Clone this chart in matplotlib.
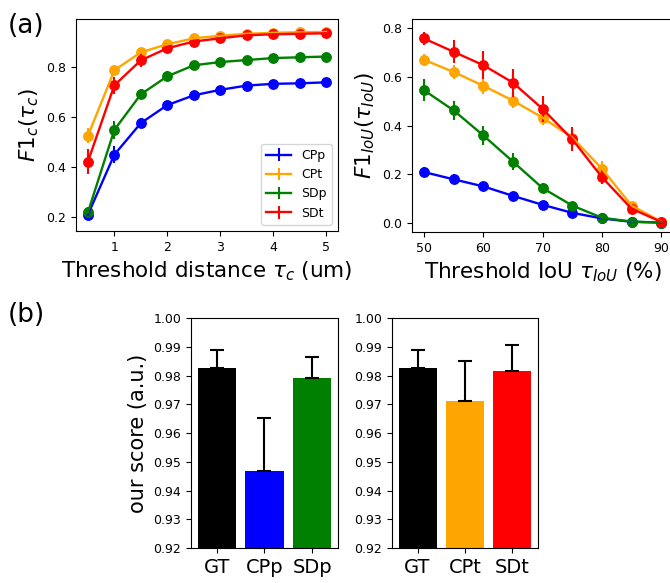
import numpy as np
import matplotlib
matplotlib.use('Agg')
import matplotlib.pyplot as plt

# (a) left: F1 vs threshold distance
dist = [0.5, 1, 1.5, 2, 2.5, 3, 3.5, 4, 4.5, 5]
cpp_d = [0.208, 0.448, 0.574, 0.646, 0.685, 0.707, 0.724, 0.731, 0.733, 0.737]
cpt_d = [0.523, 0.785, 0.857, 0.889, 0.913, 0.923, 0.931, 0.935, 0.937, 0.938]
sdp_d = [0.217, 0.547, 0.689, 0.761, 0.805, 0.818, 0.826, 0.834, 0.837, 0.840]
sdt_d = [0.420, 0.725, 0.825, 0.873, 0.900, 0.913, 0.925, 0.929, 0.931, 0.933]
cpp_d_err = [0.02, 0.035, 0.02, 0.015, 0.015, 0.01, 0.01, 0.01, 0.01, 0.01]
cpt_d_err = [0.03, 0.02, 0.015, 0.012, 0.01, 0.01, 0.01, 0.01, 0.01, 0.01]
sdp_d_err = [0.02, 0.035, 0.02, 0.02, 0.01, 0.01, 0.01, 0.01, 0.01, 0.01]
sdt_d_err = [0.05, 0.035, 0.025, 0.02, 0.015, 0.01, 0.01, 0.01, 0.01, 0.01]

# (a) right: F1 vs threshold IoU
iou = [50, 55, 60, 65, 70, 75, 80, 85, 90]
cpp_i = [0.209, 0.179, 0.150, 0.111, 0.074, 0.041, 0.018, 0.004, 0.001]
cpt_i = [0.671, 0.621, 0.564, 0.503, 0.433, 0.351, 0.223, 0.071, 0.005]
sdp_i = [0.546, 0.463, 0.360, 0.252, 0.143, 0.071, 0.021, 0.005, 0.001]
sdt_i = [0.759, 0.704, 0.649, 0.577, 0.469, 0.344, 0.188, 0.058, 0.004]
cpp_i_err = [0.02, 0.02, 0.015, 0.012, 0.01, 0.008, 0.005, 0.003, 0.001]
cpt_i_err = [0.025, 0.03, 0.035, 0.03, 0.03, 0.03, 0.03, 0.01, 0.003]
sdp_i_err = [0.045, 0.04, 0.04, 0.035, 0.02, 0.01, 0.005, 0.003, 0.001]
sdt_i_err = [0.027, 0.048, 0.058, 0.058, 0.054, 0.05, 0.03, 0.01, 0.003]

# (b) bar scores
names_p = ['GT', 'CPp', 'SDp']
score_p = [0.9827, 0.9469, 0.9791]
err_p = [0.0063, 0.0183, 0.0073]
names_t = ['GT', 'CPt', 'SDt']
score_t = [0.9827, 0.9712, 0.9817]
err_t = [0.0063, 0.0137, 0.0088]

labels = ['CPp', 'CPt', 'SDp', 'SDt']
colors = ['blue', 'orange', 'green', 'red']

fig = plt.figure(figsize=(6.7, 5.83), dpi=100)

ax1 = fig.add_axes([0.1134, 0.6038, 0.391, 0.3636])
ax2 = fig.add_axes([0.615, 0.602, 0.3896, 0.365])
ax3 = fig.add_axes([0.285, 0.060, 0.2194, 0.3945])
ax4 = fig.add_axes([0.585, 0.060, 0.218, 0.3945])

for y, e, c, l in zip([cpp_d, cpt_d, sdp_d, sdt_d], [cpp_d_err, cpt_d_err, sdp_d_err, sdt_d_err], colors, labels):
    ax1.errorbar(dist, y, yerr=e, color=c, lw=1.7, elinewidth=1.5, label=l)
    ax1.plot(dist, y, 'o', color=c, ms=6.8)
ax1.set_xlim(0.275, 5.225)
ax1.set_ylim(0.143, 0.99)
ax1.set_yticks([0.2, 0.4, 0.6, 0.8])
ax1.set_xticks([1, 2, 3, 4, 5])
ax1.tick_params(labelsize=9)
ax1.set_xlabel(r'Threshold distance $\tau_c$ (um)', fontsize=15.5)
ax1.set_ylabel(r'$F1_c(\tau_c)$', fontsize=15.5)
ax1.legend(loc='lower right', fontsize=9)

for y, e, c in zip([cpp_i, cpt_i, sdp_i, sdt_i], [cpp_i_err, cpt_i_err, sdp_i_err, sdt_i_err], colors):
    ax2.errorbar(iou, y, yerr=e, color=c, lw=1.7, elinewidth=1.5)
    ax2.plot(iou, y, 'o', color=c, ms=6.8)
ax2.set_xlim(48, 92)
ax2.set_ylim(-0.038, 0.838)
ax2.set_yticks([0.0, 0.2, 0.4, 0.6, 0.8])
ax2.tick_params(labelsize=9)
ax2.set_xlabel(r'Threshold IoU $\tau_{IoU}$ (%)', fontsize=15.5)
ax2.set_ylabel(r'$F1_{IoU}(\tau_{IoU})$', fontsize=15.5)

for ax, names, sc, er, cols in [(ax3, names_p, score_p, err_p, ['black', 'blue', 'green']),
                                (ax4, names_t, score_t, err_t, ['black', 'orange', 'red'])]:
    x = np.arange(len(names))
    ax.bar(x, sc, width=0.8, color=cols, yerr=[np.zeros(len(er)), er],
           capsize=5, error_kw=dict(elinewidth=1.5, capthick=1.5))
    ax.set_ylim(0.92, 1.0)
    ax.set_yticks(np.arange(0.92, 1.001, 0.01))
    ax.set_yticklabels(['%.2f' % v for v in np.arange(0.92, 1.001, 0.01)])
    ax.set_xticks(x)
    ax.set_xticklabels(names, fontsize=14)
    ax.tick_params(axis='y', labelsize=9)
ax3.set_ylabel('our score (a.u.)', fontsize=15)

fig.text(0.012, 0.978, '(a)', fontsize=19, va='top')
fig.text(0.012, 0.482, '(b)', fontsize=19, va='top')

fig.savefig('out.png', dpi=100)
